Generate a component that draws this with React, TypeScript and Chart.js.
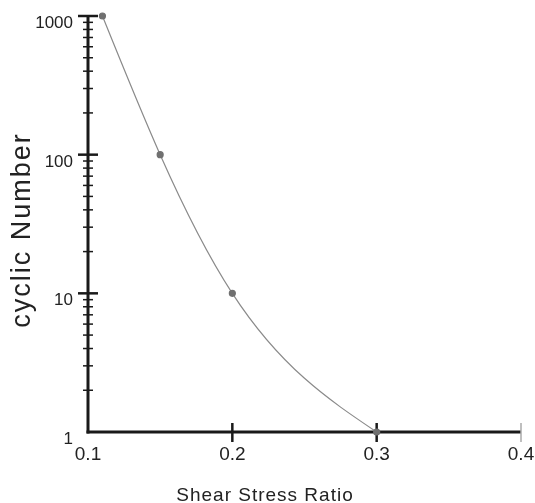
import React, { useEffect, useRef } from "react";
import { Chart, registerables } from "chart.js";

Chart.register(...registerables);

const shearStressRatio = [0.11, 0.15, 0.2, 0.3];
const cyclicNumber = [1000, 100, 10, 1];
const xTicks = [0.1, 0.2, 0.3, 0.4];
const yMajorTicks = [1, 10, 100, 1000];
const yMinorMultipliers = [2, 3, 4, 5, 6, 7, 8, 9];
const xTitle = "Shear Stress Ratio";
const yTitle = "cyclic Number";

const FONT = "'Liberation Sans', Arial, sans-serif";

// natural cubic spline through pixel points, drawn as bezier segments
function drawNaturalSpline(ctx: CanvasRenderingContext2D, pts: { x: number; y: number }[]) {
  const n = pts.length;
  if (n < 2) return;
  const h: number[] = [];
  const d: number[] = [];
  for (let i = 0; i < n - 1; i++) {
    h.push(pts[i + 1].x - pts[i].x);
    d.push((pts[i + 1].y - pts[i].y) / h[i]);
  }
  const M = new Array(n).fill(0);
  if (n > 2) {
    const m = n - 2;
    const a: number[] = [], b: number[] = [], c: number[] = [], r: number[] = [];
    for (let k = 0; k < m; k++) {
      const i = k + 1;
      a.push(h[i - 1]);
      b.push(2 * (h[i - 1] + h[i]));
      c.push(h[i]);
      r.push(6 * (d[i] - d[i - 1]));
    }
    for (let k = 1; k < m; k++) {
      const w = a[k] / b[k - 1];
      b[k] -= w * c[k - 1];
      r[k] -= w * r[k - 1];
    }
    const sol = new Array(m).fill(0);
    sol[m - 1] = r[m - 1] / b[m - 1];
    for (let k = m - 2; k >= 0; k--) sol[k] = (r[k] - c[k] * sol[k + 1]) / b[k];
    for (let k = 0; k < m; k++) M[k + 1] = sol[k];
  }
  ctx.beginPath();
  ctx.moveTo(pts[0].x, pts[0].y);
  for (let i = 0; i < n - 1; i++) {
    const mL = d[i] - (h[i] * (2 * M[i] + M[i + 1])) / 6;
    const mR = d[i] + (h[i] * (M[i] + 2 * M[i + 1])) / 6;
    const t = h[i] / 3;
    ctx.bezierCurveTo(
      pts[i].x + t, pts[i].y + t * mL,
      pts[i + 1].x - t, pts[i + 1].y - t * mR,
      pts[i + 1].x, pts[i + 1].y
    );
  }
  ctx.stroke();
}

const axesPlugin = {
  id: "customAxes",
  beforeDatasetsDraw(chart: any) {
    const { ctx } = chart;
    const xs = chart.scales.x;
    const ys = chart.scales.y;
    const axisX = xs.getPixelForValue(0.1);
    const axisY = ys.getPixelForValue(1);
    ctx.save();
    ctx.strokeStyle = "#1a1a1a";
    ctx.lineCap = "butt";
    ctx.lineWidth = 3;
    ctx.beginPath();
    ctx.moveTo(axisX, ys.getPixelForValue(1000) - 1);
    ctx.lineTo(axisX, axisY + 1.5);
    ctx.stroke();
    ctx.beginPath();
    ctx.moveTo(axisX - 1.5, axisY);
    ctx.lineTo(xs.getPixelForValue(0.4), axisY);
    ctx.stroke();
    ctx.lineWidth = 2.5;
    yMajorTicks.forEach((v) => {
      const y = ys.getPixelForValue(v);
      if (v === 1) return;
      ctx.beginPath();
      ctx.moveTo(axisX - 10, y);
      ctx.lineTo(axisX + 10, y);
      ctx.stroke();
    });
    ctx.lineWidth = 1.5;
    for (let dd = 0; dd < yMajorTicks.length - 1; dd++) {
      yMinorMultipliers.forEach((m) => {
        const y = ys.getPixelForValue(yMajorTicks[dd] * m);
        ctx.beginPath();
        ctx.moveTo(axisX - 5, y);
        ctx.lineTo(axisX + 5, y);
        ctx.stroke();
      });
    }
    xTicks.forEach((v, i) => {
      if (i === 0) return;
      const x = xs.getPixelForValue(v);
      const last = i === xTicks.length - 1;
      ctx.strokeStyle = last ? "#aaaaaa" : "#1a1a1a";
      ctx.lineWidth = last ? 1.5 : 2.5;
      ctx.beginPath();
      ctx.moveTo(x, axisY - 9);
      ctx.lineTo(x, axisY + 10);
      ctx.stroke();
    });
    ctx.fillStyle = "#222";
    ctx.font = `17px ${FONT}`;
    ctx.textAlign = "right";
    ctx.textBaseline = "alphabetic";
    yMajorTicks.forEach((v) => {
      const y = ys.getPixelForValue(v);
      ctx.fillText(String(v), axisX - 15, y + 12);
    });
    ctx.font = `19px ${FONT}`;
    ctx.textAlign = "center";
    xTicks.forEach((v) => {
      const x = xs.getPixelForValue(v);
      ctx.fillText(String(v), x, axisY + 28);
    });
    (ctx as any).letterSpacing = "1px";
    ctx.font = `19px ${FONT}`;
    ctx.fillText(xTitle, 265, 501);
    ctx.save();
    ctx.translate(30, 230);
    ctx.rotate(-Math.PI / 2);
    (ctx as any).letterSpacing = "2px";
    ctx.font = `27px ${FONT}`;
    ctx.fillText(yTitle, 0, 0);
    ctx.restore();
    (ctx as any).letterSpacing = "0px";

    // curve through the data points (pixel positions from the library's scales)
    const meta = chart.getDatasetMeta(0);
    const pts = meta.data.map((p: any) => ({ x: p.x, y: p.y }));
    ctx.strokeStyle = "#8a8a8a";
    ctx.lineWidth = 1.2;
    drawNaturalSpline(ctx, pts);
    ctx.restore();
  },
};

export default function App() {
  const ref = useRef<HTMLCanvasElement | null>(null);
  useEffect(() => {
    if (!ref.current) return;
    const chart = new Chart(ref.current, {
      type: "line",
      data: {
        datasets: [
          {
            data: shearStressRatio.map((x, i) => ({ x, y: cyclicNumber[i] })),
            borderColor: "#8a8a8a",
            borderWidth: 1.2,
            pointBackgroundColor: "#707070",
            pointBorderColor: "#707070",
            pointRadius: 3,
            showLine: false,
            fill: false,
            clip: false,
          } as any,
        ],
      },
      options: {
        animation: false,
        responsive: false,
        layout: { padding: { left: 88, right: 14, top: 16, bottom: 71 } },
        plugins: { legend: { display: false }, tooltip: { enabled: false } },
        scales: {
          x: { type: "linear", min: 0.1, max: 0.4, display: false },
          y: { type: "logarithmic", min: 1, max: 1000, display: false },
        },
      },
      plugins: [axesPlugin],
    });
    return () => chart.destroy();
  }, []);
  return (
    <div style={{ position: "absolute", left: 0, top: 0, width: 535, height: 503 }}>
      <canvas ref={ref} width={535} height={503} style={{ width: 535, height: 503 }} />
    </div>
  );
}
